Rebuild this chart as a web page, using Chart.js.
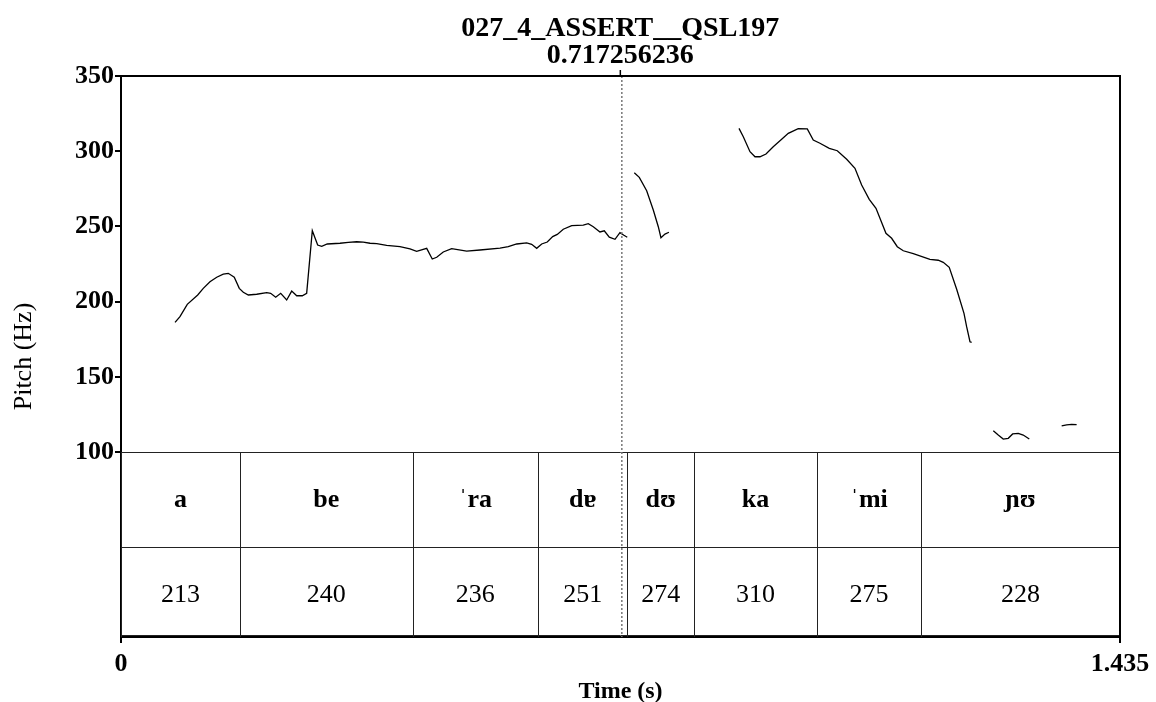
<!DOCTYPE html>
<html>
<head>
<meta charset="utf-8">
<script src="https://cdn.jsdelivr.net/npm/chart.js@4.4.1/dist/chart.umd.min.js"></script>
<style>
  html, body { margin: 0; padding: 0; background: #fff; }
  canvas { display: block; }
</style>
</head>
<body>
<canvas id="pitch" width="1156" height="702"></canvas>
<script>
// ---- labels ----
const fileName = '027_4_ASSERT__QSL197';
const cursorTime = 0.717256236;
const cursorLabel = '0.717256236';

// ---- axes ----
const timeMin = 0;
const timeMax = 1.435;
const timeTicks = [0, 1.435];
const timeTickLabels = ['0', '1.435'];
const pitchTicks = [100, 150, 200, 250, 300, 350];
const pitchMax = 350;
const pitchMin = -23;   // room below 100 Hz holds the syllable table

// ---- pitch contour (s, Hz), one pair of arrays per voiced stretch ----
const seg1Time = [0.0776, 0.0847, 0.0952, 0.1102, 0.1182, 0.1278, 0.1375, 0.1469, 0.1541, 0.1627,
  0.1699, 0.1757, 0.1829, 0.1949, 0.2093, 0.2150, 0.2222, 0.2294, 0.2380, 0.2452,
  0.2524, 0.2604, 0.2667, 0.2748, 0.2825, 0.2883, 0.2963, 0.3146, 0.3265, 0.3386,
  0.3480, 0.3577, 0.3673, 0.3816, 0.4007, 0.4151, 0.4247, 0.4391, 0.4471, 0.4535,
  0.4629, 0.4750, 0.4965, 0.5157, 0.5444, 0.5563, 0.5684, 0.5827, 0.5899, 0.5971,
  0.6043, 0.6123, 0.6201, 0.6267, 0.6353, 0.6474, 0.6640, 0.6712, 0.6784, 0.6880,
  0.6942, 0.7014, 0.7096, 0.7167, 0.7224, 0.7272];
const seg1Hz = [186.2, 190.0, 198.2, 204.4, 208.8, 213.2, 216.2, 218.2, 218.8, 216.2,
  208.8, 206.2, 204.4, 204.9, 205.9, 205.5, 202.9, 205.5, 201.1, 207.0,
  203.9, 203.9, 205.5, 247.1, 237.6, 236.8, 238.3, 238.8, 239.4, 239.8,
  239.6, 238.8, 238.5, 237.4, 236.5, 235.0, 233.4, 235.4, 228.3, 229.5,
  233.0, 235.2, 233.6, 234.3, 235.6, 236.5, 238.3, 239.0, 238.1, 235.4,
  238.3, 239.6, 243.2, 244.7, 248.1, 250.5, 250.9, 251.8, 249.8, 246.3,
  247.1, 242.8, 241.4, 245.8, 244.1, 242.8];

const seg2Time = [0.7373, 0.7445, 0.7551, 0.7646, 0.7718, 0.7756, 0.7814, 0.7871];
const seg2Hz = [285.7, 282.6, 273.7, 260.9, 249.8, 242.5, 244.9, 246.1];

const seg3Time = [0.8877, 0.8939, 0.9035, 0.9107, 0.9178, 0.9265, 0.9369, 0.9490, 0.9585, 0.9728,
  0.9858, 0.9944, 1.0040, 1.0174, 1.0289, 1.0424, 1.0543, 1.0639, 1.0748, 1.0845,
  1.0988, 1.1070, 1.1151, 1.1237, 1.1381, 1.1620, 1.1739, 1.1811, 1.1897, 1.2004,
  1.2109, 1.2147, 1.2195, 1.2219];
const seg3Hz = [315.2, 309.6, 299.7, 296.3, 296.3, 298.1, 303.0, 307.9, 311.9, 315.0,
  314.8, 307.4, 305.3, 301.9, 300.3, 294.6, 288.6, 277.5, 268.0, 262.0,
  245.4, 242.1, 236.5, 233.8, 231.9, 228.1, 227.5, 226.1, 222.8, 208.2,
  192.2, 183.3, 173.3, 172.9];

const seg4Time = [1.2530, 1.2601, 1.2673, 1.2745, 1.2808, 1.2889, 1.2960, 1.3047];
const seg4Hz = [114.2, 111.3, 108.6, 109.1, 112.0, 112.4, 111.3, 108.6];

const seg5Time = [1.3512, 1.3584, 1.3655, 1.3727];
const seg5Hz = [117.3, 118.0, 118.4, 118.2];

// ---- syllable tier ----
const syllables = ['a', 'be', '\u02C8ra', 'd\u0250', 'd\u028A', 'ka', '\u02C8mi', '\u0272\u028A'];
const syllableMeanHz = [213, 240, 236, 251, 274, 310, 275, 228];
const syllableBounds = [0, 0.171, 0.419, 0.599, 0.7275, 0.823, 1.000, 1.149, 1.435];

const SERIF = '"Liberation Serif", "Times New Roman", serif';

const segments = [
  [seg1Time, seg1Hz], [seg2Time, seg2Hz], [seg3Time, seg3Hz], [seg4Time, seg4Hz], [seg5Time, seg5Hz]
];

const datasets = segments.map(([ts, hz]) => ({
  data: ts.map((t, i) => ({ x: t, y: hz[i] })),
  borderColor: '#000',
  borderWidth: 1.3,
  pointRadius: 0,
  tension: 0,
  fill: false
}));

const crisp = v => Math.round(v) + 0.5;

// syllable table under the 100 Hz line
const tablePlugin = {
  id: 'syllableTable',
  beforeDatasetsDraw(chart) {
    const { ctx, chartArea, scales: { x, y } } = chart;
    const top = y.getPixelForValue(100);
    const bottom = chartArea.bottom;
    const mid = top + (bottom - top) * 0.514;
    const left = x.getPixelForValue(syllableBounds[0]);
    const right = x.getPixelForValue(syllableBounds[syllableBounds.length - 1]);
    ctx.save();
    ctx.strokeStyle = '#222';
    ctx.lineWidth = 1;
    ctx.beginPath();
    ctx.moveTo(left, crisp(top)); ctx.lineTo(right, crisp(top));
    ctx.moveTo(left, crisp(mid)); ctx.lineTo(right, crisp(mid));
    ctx.moveTo(left, crisp(bottom - 2)); ctx.lineTo(right, crisp(bottom - 2));
    syllableBounds.forEach(b => {
      const px = crisp(x.getPixelForValue(b));
      ctx.moveTo(px, top); ctx.lineTo(px, bottom);
    });
    ctx.stroke();
    ctx.fillStyle = '#000';
    ctx.textAlign = 'center';
    ctx.textBaseline = 'alphabetic';
    for (let i = 0; i < syllables.length; i++) {
      const cx = (x.getPixelForValue(syllableBounds[i]) + x.getPixelForValue(syllableBounds[i + 1])) / 2;
      ctx.font = 'bold 26px ' + SERIF;
      ctx.fillText(syllables[i], cx, top + 55);
      ctx.font = '26px ' + SERIF;
      ctx.fillText(String(syllableMeanHz[i]), cx, mid + 55);
    }
    ctx.restore();
  }
};

// time cursor, outer frame and heading
const framePlugin = {
  id: 'frameAndCursor',
  afterDatasetsDraw(chart) {
    const { ctx, chartArea, scales: { x } } = chart;
    const cx = x.getPixelForValue(cursorTime);
    ctx.save();
    ctx.strokeStyle = '#777';
    ctx.lineWidth = 1.5;
    ctx.setLineDash([2, 2]);
    ctx.beginPath();
    ctx.moveTo(cx + 1.5, chartArea.top);
    ctx.lineTo(cx + 1.5, chartArea.bottom);
    ctx.stroke();
    ctx.setLineDash([]);
    ctx.strokeStyle = '#000';
    ctx.lineWidth = 1.5;
    ctx.beginPath();
    ctx.moveTo(cx, chartArea.top - 6);
    ctx.lineTo(cx, chartArea.top);
    ctx.stroke();
    // top and right edges of the box
    ctx.lineWidth = 2;
    ctx.beginPath();
    ctx.moveTo(chartArea.left, chartArea.top);
    ctx.lineTo(chartArea.right, chartArea.top);
    ctx.lineTo(chartArea.right, chartArea.bottom);
    ctx.stroke();
    // heading
    ctx.fillStyle = '#000';
    ctx.textAlign = 'center';
    ctx.textBaseline = 'alphabetic';
    ctx.font = 'bold 28px ' + SERIF;
    ctx.fillText(fileName, cx, 36);
    ctx.fillText(cursorLabel, cx, 63);
    ctx.restore();
  }
};

new Chart(document.getElementById('pitch'), {
  type: 'line',
  data: { datasets },
  plugins: [tablePlugin, framePlugin],
  options: {
    responsive: false,
    animation: false,
    layout: { padding: { top: 76, right: 36, left: 0, bottom: 0 } },
    plugins: { legend: { display: false }, tooltip: { enabled: false }, title: { display: false } },
    scales: {
      x: {
        type: 'linear',
        min: timeMin,
        max: timeMax,
        afterBuildTicks: s => { s.ticks = timeTicks.map(v => ({ value: v })); },
        afterFit: s => { s.height = 65; },
        grid: { drawOnChartArea: false, drawTicks: true, tickLength: 6, color: '#000', lineWidth: 2 },
        border: { display: true, color: '#000', width: 2 },
        ticks: {
          color: '#000',
          autoSkip: false,
          maxRotation: 0,
          padding: 6,
          font: { family: SERIF, size: 26, weight: 'bold' },
          callback: (v, i) => timeTickLabels[i]
        },
        title: {
          display: true,
          text: 'Time (s)',
          color: '#000',
          font: { family: SERIF, size: 24, weight: 'bold', lineHeight: 1 },
          padding: { top: 0, bottom: -2 }
        }
      },
      y: {
        type: 'linear',
        min: pitchMin,
        max: pitchMax,
        afterBuildTicks: s => { s.ticks = pitchTicks.map(v => ({ value: v })); },
        afterFit: s => { s.width = 121; },
        grid: { drawOnChartArea: false, drawTicks: true, tickLength: 6, color: '#000', lineWidth: 2 },
        border: { display: true, color: '#000', width: 2 },
        ticks: {
          color: '#000',
          padding: 1,
          font: { family: SERIF, size: 26, weight: 'bold' },
          callback: v => String(v)
        },
        title: {
          display: true,
          text: 'Pitch (Hz)',
          color: '#000',
          font: { family: SERIF, size: 26, lineHeight: 1 },
          padding: { top: 11, bottom: 0 }
        }
      }
    }
  }
});
</script>
</body>
</html>
